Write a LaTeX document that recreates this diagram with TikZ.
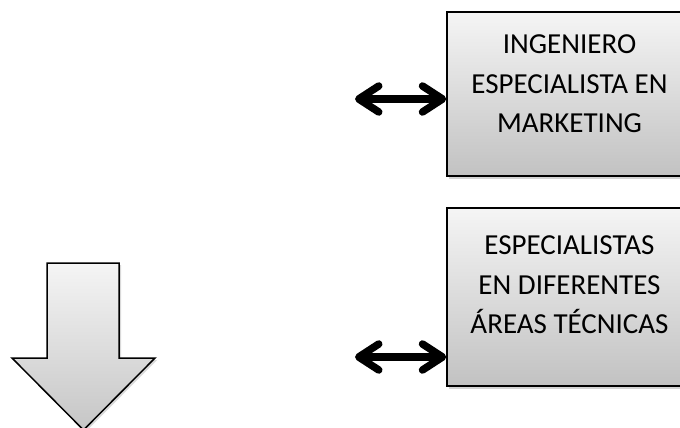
\documentclass[tikz,border=0pt]{standalone}
\usepackage{fontspec}
\setmainfont{Carlito}
\usepackage{tikz}
\usetikzlibrary{arrows.meta}
\usetikzlibrary{positioning}
\usetikzlibrary{shadows}

\tikzset{
  cajabox/.style={draw=black, line width=1.5pt, top color=gray!8, bottom color=gray!48,
    drop shadow={opacity=0.35, shadow xshift=2pt, shadow yshift=-3pt},
    minimum width=245pt, inner sep=0pt},
  cajatexto/.style={align=center, font=\fontsize{29}{39.5}\selectfont},
  dobleflecha/.style={line width=7.5pt, line cap=round,
    {Straight Barb[round,length=20pt,width=26pt]}-{Straight Barb[round,length=20pt,width=26pt]}},
  flechabaja/.style={draw=black, line width=1.5pt, top color=gray!8, bottom color=gray!45,
    drop shadow={opacity=0.3, shadow xshift=2pt, shadow yshift=-2pt}}
}

\begin{document}
\begin{tikzpicture}[x=1pt,y=-1pt]
\useasboundingbox (0,0) rectangle (680,428);
\node[cajabox, minimum height=164pt] at (569.5,94) (ing) {};
\node[cajatexto] at ([yshift=10pt]ing.center) (ingtxt) {INGENIERO\\ESPECIALISTA EN\\MARKETING};
\node[cajabox, minimum height=178pt] at (569.5,297) (esp) {};
\node[cajatexto] at ([yshift=12pt]esp.center) (esptxt) {ESPECIALISTAS\\EN DIFERENTES\\ÁREAS TÉCNICAS};
\coordinate (izq1) at (355,99);
\coordinate (izq2) at (355,357);
\draw[dobleflecha] (izq1) -- (izq1 -| ing.west);
\draw[dobleflecha] (izq2) -- (izq2 -| esp.west);
\draw[flechabaja] (47,263) -- (119,263) -- (119,358) -- (155,358) -- (83.5,430)
  -- (12,358) -- (47,358) -- cycle;
\end{tikzpicture}
\end{document}
